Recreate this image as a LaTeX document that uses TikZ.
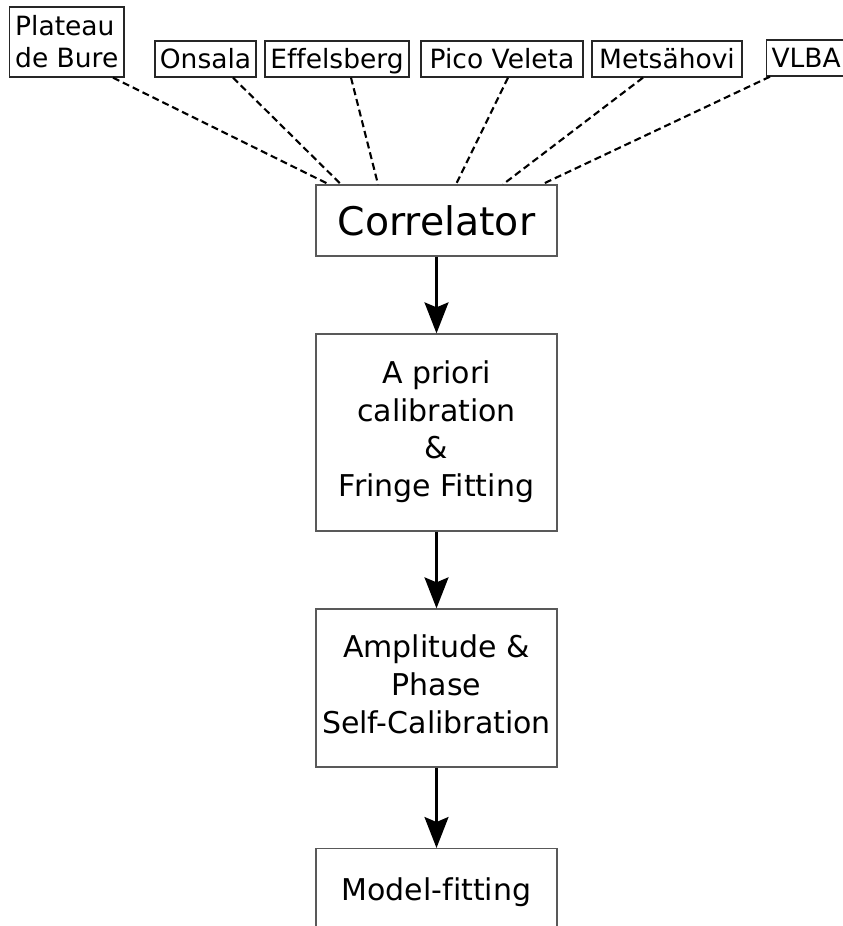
\documentclass[tikz,border=0pt]{standalone}
\usepackage{fontspec}
\setmainfont[Ligatures=NoCommon]{DejaVu Sans}
\usetikzlibrary{arrows.meta}
\begin{document}
\begin{tikzpicture}[x=1pt,y=-1pt,
  stationbase/.style={draw=black!85, line width=1.3pt, inner xsep=0pt, inner ysep=0pt,
    font=\fontsize{26.5}{32}\selectfont},
  station/.style={stationbase, text height=27pt, text depth=9pt, minimum height=36pt},
  stage/.style={draw=black!65, line width=1.3pt, minimum width=241pt, inner sep=0pt,
    font=\fontsize{30}{37.7}\selectfont, align=center},
  link/.style={dash pattern=on 7pt off 4pt, line width=2.1pt},
  flow/.style={-{Stealth[length=31pt,width=24pt,inset=5pt]}, line width=2.4pt}]
\useasboundingbox (0,0) rectangle (843,926);
\clip (0,0) rectangle (843,926);

% observing stations
\node[stationbase, align=left, minimum width=114.5pt, minimum height=70pt]
  (pdb) at (66.75,42) {Plateau\\de Bure};
\node[station, minimum width=101pt] (ons) at (205.5,59) {Onsala};
\node[station, minimum width=144pt] (eff) at (337,59) {Effelsberg};
\node[station, minimum width=162pt] (pv)  at (502,59) {Pico Veleta};
\node[station, minimum width=150pt] (met) at (667,59) {Metsähovi};
\node[station, minimum width=80pt, anchor=west] (vlba) at (765.5,58) {VLBA};

% processing chain
\node[stage, minimum height=71pt, font=\fontsize{39.4}{47}\selectfont]
  (corr) at (436.5,220.5) {Correlator};
\node[stage, minimum height=197pt] (cal) at (436.5,432.5)
  {\strut A priori\\\strut calibration\\\strut \&\\\strut Fringe Fitting};
\node[stage, minimum height=158pt] (self) at (436.5,688)
  {\strut Amplitude \&\\\strut Phase\\\strut Self-Calibration};
\node[stage, minimum height=89pt, anchor=north] (model) at (436.5,848)
  {\strut Model-fitting};

% data links to the correlator
\draw[link] ([xshift=46.25pt]pdb.south) -- ([xshift=-107.5pt]corr.north);
\draw[link] ([xshift=27.5pt]ons.south)  -- ([xshift=-95.5pt]corr.north);
\draw[link] ([xshift=14pt]eff.south)    -- ([xshift=-58.5pt]corr.north);
\draw[link] ([xshift=6pt]pv.south)      -- ([xshift=19.5pt]corr.north);
\draw[link] ([xshift=-24pt]met.south)   -- ([xshift=66.5pt]corr.north);
\draw[link] ([xshift=4.5pt]vlba.south west) -- ([xshift=105.5pt]corr.north);

% processing flow
\draw[flow] (corr.south) -- (cal.north);
\draw[flow] (cal.south)  -- (self.north);
\draw[flow] (self.south) -- (model.north);
\end{tikzpicture}
\end{document}
